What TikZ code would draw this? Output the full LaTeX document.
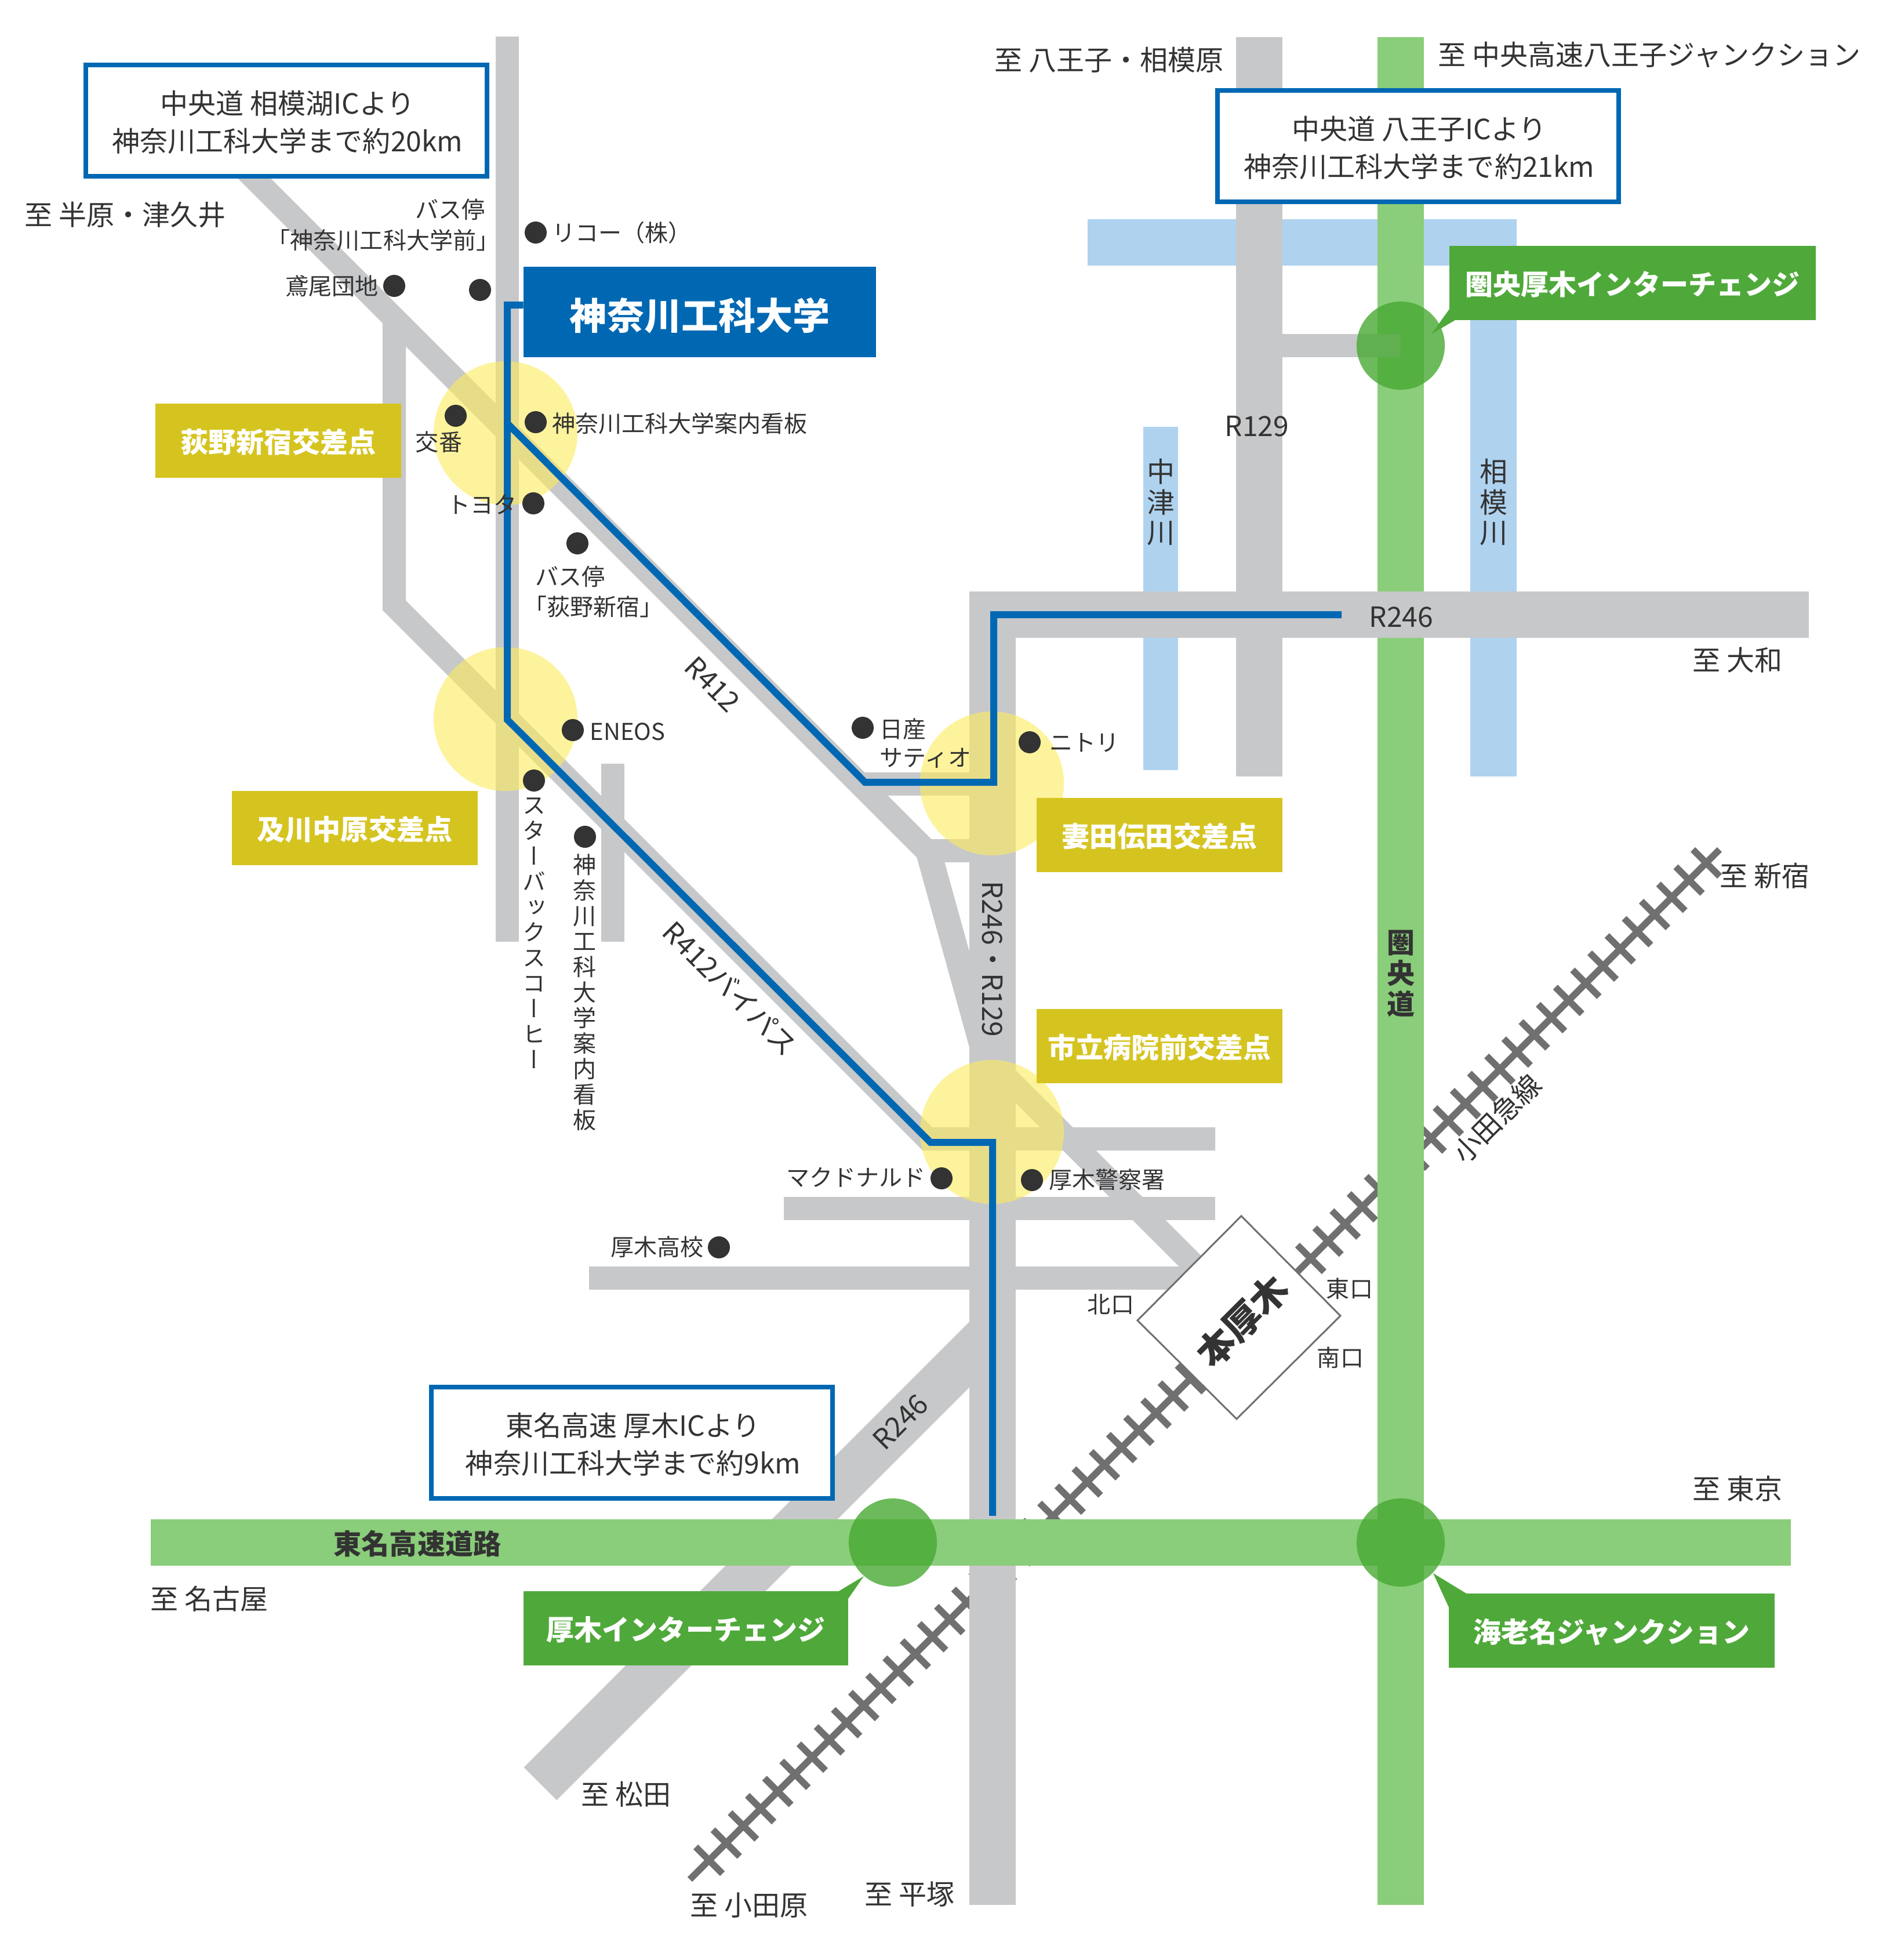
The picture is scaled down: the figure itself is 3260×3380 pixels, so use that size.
\documentclass[tikz,border=0pt]{standalone}
\usepackage{fontspec}
\setmainfont{Noto Sans CJK JP}
\newfontfamily\vertfont[RawFeature=+vert]{Noto Sans CJK JP}
\definecolor{mygray}{HTML}{C7C8CA}
\definecolor{myblue}{HTML}{0068B3}
\definecolor{myriver}{HTML}{AFD2EF}
\definecolor{mygreen}{HTML}{8ACD7A}
\definecolor{mydarkgreen}{HTML}{4FA93A}
\definecolor{myic}{HTML}{47A932}
\definecolor{myyellow}{HTML}{FBEB60}
\definecolor{mygold}{HTML}{D5C420}
\definecolor{mytext}{HTML}{333333}
\definecolor{myrail}{HTML}{707070}
\newcommand\fsmain{\fontsize{13.66}{18.5}\selectfont}
\newcommand\fssmall{\fontsize{11.38}{14}\selectfont}
\newcommand\fsvsmall{\fontsize{11.38}{12.5}\vertfont}
\newcommand\fsvmain{\fontsize{13.66}{15}\vertfont}
\begin{document}
\begin{tikzpicture}[x=0.01cm,y=-0.01cm]
\tikzset{
  road/.style ={line width=.8cm, mygray},
  thinroad/.style ={line width=.4cm, mygray},
  river/.style ={line width=.8cm, myriver},
  highway/.style ={line width=.8cm, mygreen},
  route/.style ={line width=.12cm, myblue},
  rail/.style ={line width=.115cm, myrail},
  txt/.style ={text=mytext, font=\fsmain, inner sep=0},
  small/.style ={text=mytext, font=\fssmall, inner sep=0},
  vsmall/.style ={small, font=\fsvsmall, align=center},
  vmain/.style ={txt, font=\fsvmain, align=center},
  dotmark/.style ={circle, fill=mytext, inner sep=0, minimum size=.38cm},
  infobox/.style ={draw=myblue, line width=.08cm, fill=white, minimum width=6.92cm, minimum height=1.92cm},
  infotxt/.style ={txt, align=center},
  crossing/.style ={fill=mygold, text=white, font=\fsmain\bfseries, text height=12.6pt, text depth=1pt, minimum width=4.24cm, minimum height=1.28cm},
  iclabel/.style ={fill=mydarkgreen, text=white, font=\fsmain\bfseries, text height=12.6pt, text depth=1pt, minimum height=1.28cm},
}
\useasboundingbox (0,0) rectangle (3260,3380);
% rivers
\draw[river] (1876,418) -- (2616,418);
\draw[river] (2576,418) -- (2576,1339);
\draw[river, line width=.6cm] (2002,736) -- (2002,1328);
% railway
\draw[rail] (1190,3241) -- (2966,1465);
\foreach \k in {0,...,58}
  \draw[rail] ({1223+29.655*\k-23},{3208-29.655*\k-23}) -- ({1223+29.655*\k+23},{3208-29.655*\k+23});
\draw[highway] (2416,64) -- (2416,3285);
% roads
\draw[thinroad] (875,63) -- (875,1624);
\draw[thinroad] (1057,1317) -- (1057,1624);
\draw[thinroad] (331,200) -- (1598,1467) -- (1712,1467);
\draw[thinroad, line width=.44cm] (1601,1467) -- (1712,1868);
\draw[thinroad] (680,552) -- (680,1044) -- (1600,1964) -- (2096,1964);
\draw[thinroad] (1352,2084) -- (2096,2084);
\draw[thinroad] (1016,2204) -- (2060,2204);
\draw[thinroad] (1712,1834) -- (2100,2222);
\draw[thinroad] (1492,1352) -- (1712,1352);
\draw[thinroad] (2172,596) -- (2416,596);
\draw[road] (2172,64) -- (2172,1339);
\draw[road] (932,3076) -- (1712,2296);
\draw[road] (3120,1060) -- (1712,1060) -- (1712,3285);
\draw[highway] (260,2660) -- (3089,2660);
% crossings
\foreach \x/\y in {872/747, 872/1240, 1711/1351, 1711/1952}
  \fill[myyellow, fill opacity=.62] (\x,\y) circle[radius=1.24cm];
\foreach \x/\y in {2416/596, 1540/2660, 2416/2660}
  \fill[myic, fill opacity=.8] (\x,\y) circle[radius=.76cm];
% station
\draw[myrail, line width=.03cm, fill=white] (2141,2097) -- (2312,2269) -- (2133,2447) -- (1962,2277) -- cycle;
% boxes
\node[infobox] (sagamiko) at (494,208) {};
\node[infotxt] (sagamikotxt) at ([xshift=.02cm,yshift=-.03cm]sagamiko.center) {中央道 相模湖ICより\\神奈川工科大学まで約20km};
\node[infobox] (hachioji) at (2446,252) {};
\node[infotxt] (hachiojitxt) at ([xshift=.02cm,yshift=-.03cm]hachioji.center) {中央道 八王子ICより\\神奈川工科大学まで約21km};
\node[infobox] (atsugi) at (1090,2488) {};
\node[infotxt] (atsugitxt) at ([xshift=.02cm,yshift=-.03cm]atsugi.center) {東名高速 厚木ICより\\神奈川工科大学まで約9km};
\node[fill=myblue, text=white, font=\fontsize{18.2}{20}\selectfont\bfseries, text height=17.2pt, text depth=0pt, minimum width=6.07cm, minimum height=1.56cm] (univ) at (1207,538) {神奈川工科大学};
\draw[route] ([yshift=.12cm]univ.west) -- (875,526) -- (875,1241) -- (1605,1970) -- (1712,1970) -- (1712,2614);
\draw[route] (875,730) -- (1492,1349) -- (1714,1349) -- (1714,1060) -- (2314,1060);
\node[crossing] (ogino) at (480,760) {荻野新宿交差点};
\node[crossing] (oikawa) at (612,1428) {及川中原交差点};
\node[crossing] (tsumada) at (2000,1440) {妻田伝田交差点};
\node[crossing] (hospital) at (2000,1804) {市立病院前交差点};
\node[iclabel, minimum width=6.32cm] (kenic) at (2816,488) {圏央厚木インターチェンジ};
\fill[mydarkgreen] (2500,533) -- (2469,576) -- (2510,552) -- cycle;
\node[iclabel, minimum width=5.6cm] (atsugiic) at (1183,2808) {厚木インターチェンジ};
\fill[mydarkgreen] (1445,2745) -- (1490,2718) -- (1463,2757) -- cycle;
\node[iclabel, minimum width=5.61cm] (ebina) at (2780,2812) {海老名ジャンクション};
\fill[mydarkgreen] (2531,2749) -- (2472,2713) -- (2500,2774) -- cycle;
% landmarks
\foreach \i/\x/\y in {a/924/401, b/680/493, c/828/500, d/786/717, e/924/728, f/920/868, g/996/937, h/988/1259, i/921/1346, j/1009/1443, k/1488/1255, l/1776/1280, m/1624/2032, n/1780/2035, o/1240/2151}
  \node[dotmark] (dot\i) at (\x,\y) {};
\node[small, anchor=east] (busmae) at (837,361) {バス停};
\node[small] (busmae2) at (661,414) {「神奈川工科大学前」};
\node[small, anchor=west] (ricoh) at (952,401) {リコー（株）};
\node[small, anchor=east] (tobio) at (653,493) {鳶尾団地};
\node[small] (koban) at (757,762) {交番};
\node[small, anchor=west] (kanban) at (952,730) {神奈川工科大学案内看板};
\node[small, anchor=east] (toyota) at (892,870) {トヨタ};
\node[small, anchor=west] (bus2) at (923,994) {バス停};
\node[small, anchor=west] (bus3) at (903,1046) {「荻野新宿」};
\node[small, anchor=west] (eneos) at (1017,1262) {ENEOS};
\node[vsmall] (starbucks) at (922,1609) {ス\\タ\\ー\\バ\\ッ\\ク\\ス\\コ\\ー\\ヒ\\ー};
\node[vsmall] (kanban2) at (1009,1711) {神\\奈\\川\\工\\科\\大\\学\\案\\内\\看\\板};
\node[small, anchor=west, align=left] (nissan) at (1517,1282) {日産\\サティオ};
\node[small, anchor=west] (nitori) at (1810,1281) {ニトリ};
\node[small, anchor=east] (mac) at (1597,2030) {マクドナルド};
\node[small, anchor=west] (police) at (1809,2034) {厚木警察署};
\node[small, anchor=east] (school) at (1214,2150) {厚木高校};
% road names
\node[txt, rotate=-45] (r412) at (1229,1180) {R412};
\node[txt, rotate=-45] (r412b) at (1260,1704) {R412バイパス};
\node[txt, rotate=-90] (r246a) at (1712,1654) {R246・R129};
\node[txt] (r129) at (2168,735) {R129};
\node[txt] (r246b) at (2417,1064) {R246};
\node[txt, rotate=45] (r246c) at (1553,2452) {R246};
\node[txt, rotate=45] (odakyu) at (2582,1929) {小田急線};
\node[txt, font=\fsmain\bfseries] (tomei) at (720,2662) {東名高速道路};
\node[vmain, font=\fsvmain\bfseries] (kenodo) at (2416,1679) {圏\\央\\道};
\node[vmain] (nakatsu) at (2003,866) {中\\津\\川};
\node[vmain] (sagami) at (2576,866) {相\\模\\川};
% directions
\node[txt, anchor=west] (to1) at (42,370) {至 半原・津久井};
\node[txt, anchor=west] (to2) at (1715,103) {至 八王子・相模原};
\node[txt, anchor=west] (to3) at (2480,94) {至 中央高速八王子ジャンクション};
\node[txt, anchor=west] (to4) at (2919,1138) {至 大和};
\node[txt, anchor=west] (to5) at (2966,1510) {至 新宿};
\node[txt, anchor=west] (to6) at (2919,2567) {至 東京};
\node[txt, anchor=west] (to7) at (259,2757) {至 名古屋};
\node[txt, anchor=west] (to8) at (1002,3094) {至 松田};
\node[txt, anchor=west] (to9) at (1190,3286) {至 小田原};
\node[txt, anchor=west] (to10) at (1491,3267) {至 平塚};
% station text
\node[txt, rotate=45, font=\fontsize{18.2}{20}\selectfont\bfseries] (honatsugi) at (2143,2278) {本厚木};
\node[small] (kita) at (1916,2249) {北口};
\node[small] (higashi) at (2328,2222) {東口};
\node[small] (minami) at (2312,2341) {南口};
\end{tikzpicture}
\end{document}
